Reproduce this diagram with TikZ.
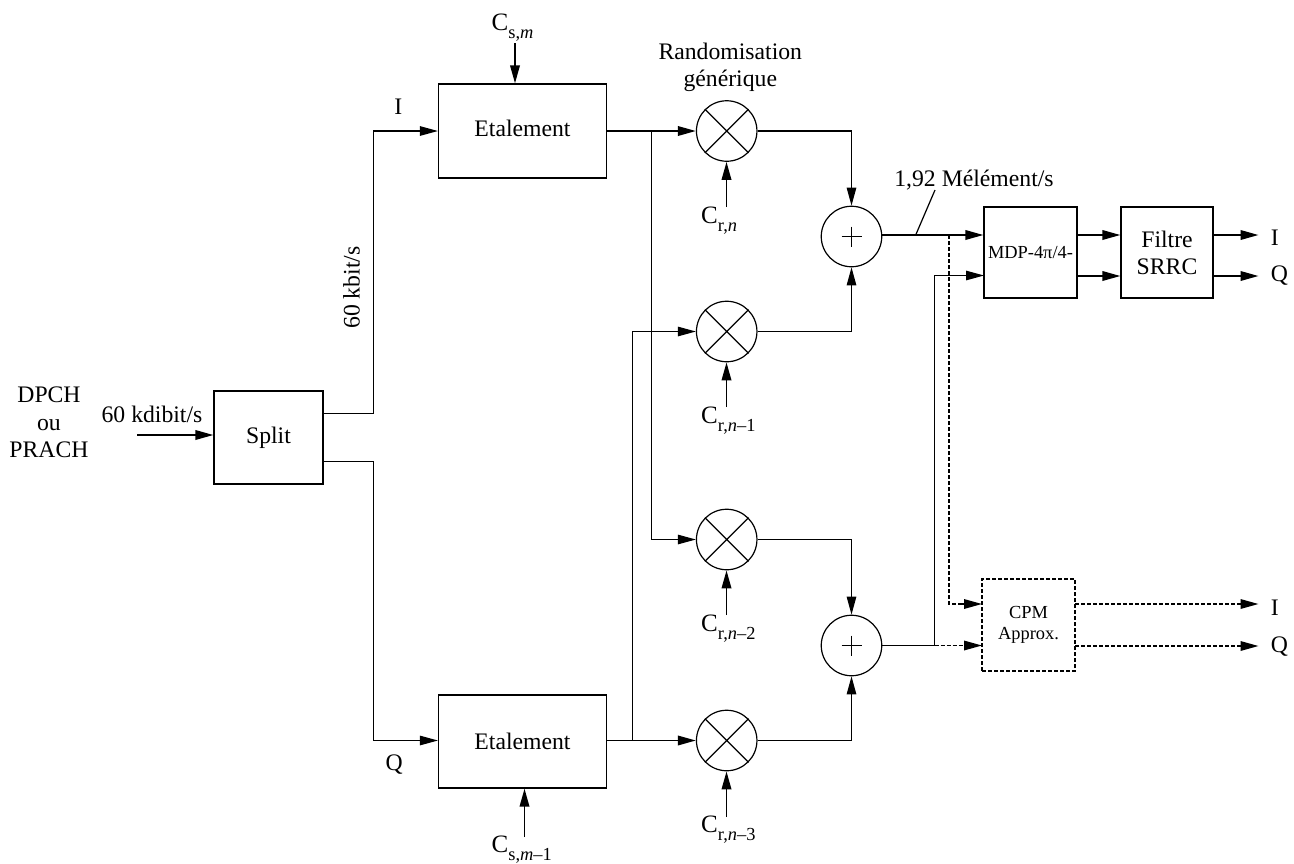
\documentclass[tikz,border=0pt]{standalone}
\usepackage{fontspec}
\setmainfont{Liberation Serif}
\usetikzlibrary{arrows.meta,calc}
\newcommand{\bigtxt}{\fontsize{23.7}{27}\selectfont}
\newcommand{\littxt}{\fontsize{18.4}{21.7}\selectfont}
\newcommand{\Csub}[1]{{\fontsize{25}{27}\selectfont C}\raisebox{-8pt}{\fontsize{18.4}{20}\selectfont #1}}
\tikzset{
  x=1pt,y=-1pt,
  txt/.style={inner sep=0pt,font=\bigtxt,align=center},
  lbl/.style={inner sep=0pt,font=\bigtxt,anchor=base},
  code/.style={inner sep=0pt,font=\bigtxt,anchor=base west},
  blk/.style={draw,line width=1.2pt,inner sep=0pt,font=\bigtxt,align=center,minimum width=#1},
  mult/.style={draw,circle,line width=1.2pt,minimum size=60.5pt,inner sep=0pt},
  sumc/.style={draw,circle,line width=1.2pt,minimum size=60.5pt,inner sep=0pt},
  ln/.style={line width=1.2pt},
  hv/.style={line width=1.9pt},
  atip/.style={-{Triangle[length=18pt,width=9.5pt]}},
  ar/.style={ln,atip},
  har/.style={hv,atip},
  dsh/.style={line width=1.7pt,dash pattern=on 4pt off 2pt},
  dar/.style={dsh,atip},
}
\begin{document}
\begin{tikzpicture}
\useasboundingbox (0,0) rectangle (1294,863);
% blocks
\node[blk=109pt,minimum height=93pt] (split) at (268.5,437.5) {Split};
\node[blk=168pt,minimum height=94pt] (et1) at (522.5,131) {\raisebox{6pt}{Etalement}};
\node[blk=168pt,minimum height=93pt] (et2) at (522.5,741.5) {Etalement};
\node[blk=93pt,minimum height=91pt,font=\littxt] (mdp) at (1030.5,252.5) {\raisebox{-3pt}{MDP-4π/4-}};
\node[blk=92pt,minimum height=91pt] (srrc) at (1167,252.5) {Filtre\\SRRC};
\node[blk=93pt,minimum height=92pt,font=\littxt,dsh] (cpm) at (1028.5,625) {\raisebox{-2pt}{CPM}\\\raisebox{-2pt}{Approx.}};
% multipliers
\foreach \n/\y in {1/131,2/331.5,3/539.5,4/740.5}{
  \node[mult] (m\n) at (726.7,\y) {};
  \draw[ln] (m\n.45) -- (m\n.225) (m\n.135) -- (m\n.315);
}
% adders
\foreach \n/\y in {1/236.5,2/645.5}{
  \node[sumc] (s\n) at (851.5,\y) {};
  \draw[ln] ($(s\n.center)+(-10,0)$) -- ($(s\n.center)+(10,0)$)
            ($(s\n.center)+(0,-10)$) -- ($(s\n.center)+(0,10)$);
}
% text
\node[txt] (src) at (49,422.7) {DPCH\\[0.5pt]ou\\[0.5pt]PRACH};
\node[lbl] (rate0) at (152,422.7) {60 kdibit/s};
\node[lbl,rotate=90] (rate1) at (359.5,287.5) {60 kbit/s};
\node[lbl] (li) at (398.3,114) {I};
\node[lbl] (lq) at (394.3,770) {Q};
\node[txt] (rand) at (730.3,67.5) {Randomisation\\générique};
\node[lbl] (rate2) at (974,186.7) {1,92 Mélément/s};
\node[code] (oi1) at (1270.7,245) {I};
\node[code] (oq1) at (1270.7,281) {Q};
\node[code] (oi2) at (1270.7,615) {I};
\node[code] (oq2) at (1270.7,652) {Q};
\node[code] (csm) at (491.5,30) {\Csub{s,\textit{m}}};
\node[code] (csm1) at (491.5,852) {\Csub{s,\textit{m}–1}};
\node[code] (crn0) at (701,223) {\Csub{r,\textit{n}}};
\node[code] (crn1) at (701,423) {\Csub{r,\textit{n}–1}};
\node[code] (crn2) at (701,631) {\Csub{r,\textit{n}–2}};
\node[code] (crn3) at (701,832.7) {\Csub{r,\textit{n}–3}};
% coordinates of free ends and bends
\coordinate (in) at (137,435);
\coordinate (b1) at (373.5,413.5);
\coordinate (b2) at (373.5,461.5);
\coordinate (bq) at (651.5,131);
\coordinate (bp) at (632.5,740.5);
\coordinate (j1) at (915.7,235);
\coordinate (j2) at (949,235);
\coordinate (j3) at (934.5,645.5);
\coordinate (t1) at (935,190);
\coordinate (mi1) at (mdp.west |- j1);
\coordinate (mi2) at (984,275.5);
\coordinate (mo1) at (mdp.east |- j1);
\coordinate (mo2) at (1077,276);
\coordinate (fi1) at (srrc.west |- j1);
\coordinate (fi2) at (srrc.west |- mo2);
\coordinate (fo1) at (srrc.east |- j1);
\coordinate (fo2) at (srrc.east |- mo2);
\coordinate (e1) at (1258.5,235);
\coordinate (e2) at (1258.5,276);
\coordinate (ci1) at (982,604);
\coordinate (ci2) at (982,645.5);
\coordinate (co1) at (1075,604);
\coordinate (co2) at (1075,646);
\coordinate (e3) at (1258.5,604);
\coordinate (e4) at (1258.5,646);
\coordinate (ca1) at (515,43);
\coordinate (ca2) at (524.5,837);
\coordinate (cb0) at (726.5,207);
\coordinate (cb1) at (726.5,407);
\coordinate (cb2) at (726.5,615);
\coordinate (cb3) at (726.5,817);
% input and split
\draw[har] (in) -- (split.west |- in);
\draw[ln] (split.east |- b1) -- (b1) |- ($(et1.west |- m1)+(-20,0)$);
\draw[ar] ($(et1.west |- m1)+(-25,0)$) -- (et1.west |- m1);
\draw[ln] (split.east |- b2) -- (b2) |- ($(et2.west |- m4)+(-20,0)$);
\draw[ar] ($(et2.west |- m4)+(-25,0)$) -- (et2.west |- m4);
% codes
\draw[har] (ca1) -- (ca1 |- et1.north);
\draw[har] (ca2) -- (ca2 |- et2.south);
\draw[har] (cb0) -- (cb0 |- m1.south);
\draw[har] (cb1) -- (cb1 |- m2.south);
\draw[har] (cb2) -- (cb2 |- m3.south);
\draw[har] (cb3) -- (cb3 |- m4.south);
% spreading outputs
\draw[har] (et1.east |- m1) -- (m1.west);
\draw[har] (et2.east |- m4) -- (m4.west);
\draw[ln] (bq) |- ($(m3.west)+(-20,0)$);
\draw[ar] ($(m3.west)+(-25,0)$) -- (m3.west);
\draw[ln] (bp) |- ($(m2.west)+(-20,0)$);
\draw[ar] ($(m2.west)+(-25,0)$) -- (m2.west);
% multipliers to adders
\draw[ar] (m1.east) -| (s1.north);
\draw[ar] (m2.east) -| (s1.south);
\draw[ar] (m3.east) -| (s2.north);
\draw[ar] (m4.east) -| (s2.south);
% outputs
\draw[ln] (t1) -- (j1);
\draw[har] (s1.east |- j1) -- (mi1);
\draw[ln] (s2.east) -- (j3);
\draw[ln] (j3) |- ($(mi2)+(-20,0)$);
\draw[ar] ($(mi2)+(-25,0)$) -- (mi2);
\draw[har] (mo1) -- (fi1);
\draw[har] (mo2) -- (fi2);
\draw[har] (fo1) -- (e1);
\draw[har] (fo2) -- (e2);
% dashed branch
\draw[dsh] (j2) |- ($(ci1)+(-17,0)$);
\draw[dar] ($(ci1)+(-20,0)$) -- (ci1);
\draw[dar] (j3) -- (ci2);
\draw[dar] (co1) -- (e3);
\draw[dar] (co2) -- (e4);
\end{tikzpicture}
\end{document}
